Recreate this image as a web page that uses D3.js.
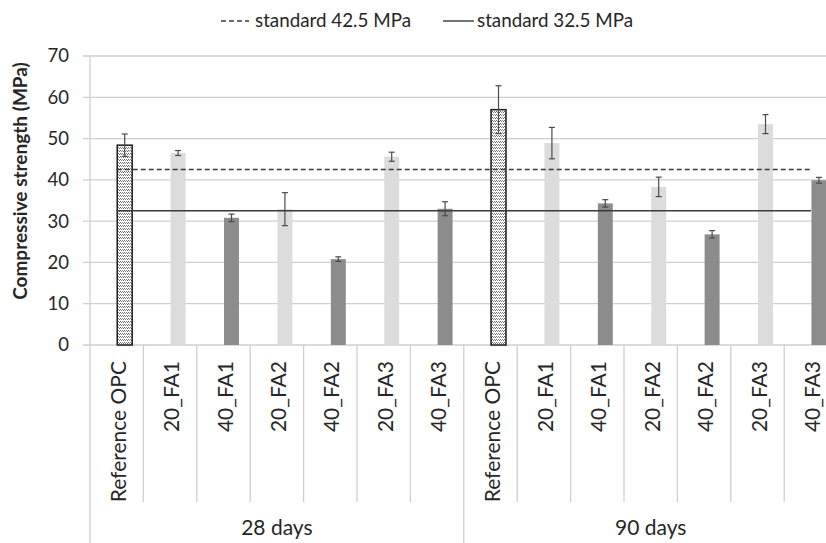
<!DOCTYPE html>
<html><head><meta charset="utf-8">
<script src="https://cdn.jsdelivr.net/npm/d3@7"></script>
<style>body{margin:0;background:#fff}svg{display:block}text{font-family:Lato,"Open Sans",sans-serif;fill:#262626}</style>
</head><body><svg id="c" width="826" height="543"></svg>
<script>
const groups = ["28 days", "90 days"];
const categories = ["Reference OPC", "20_FA1", "40_FA1", "20_FA2", "40_FA2", "20_FA3", "40_FA3"];
const mixType = ["ref", "20", "40", "20", "40", "20", "40"];
const values28 = [48.4, 46.5, 30.8, 32.9, 20.8, 45.6, 33.0];
const errors28 = [2.7, 0.6, 0.9, 4.0, 0.55, 1.1, 1.7];
const values90 = [57.0, 48.9, 34.3, 38.3, 26.8, 53.5, 39.9];
const errors90 = [5.8, 3.8, 0.9, 2.35, 0.9, 2.3, 0.7];
const standards = [{label: "standard 42.5 MPa", value: 42.5, dash: "5,3"}, {label: "standard 32.5 MPa", value: 32.5, dash: null}];
const yTicks = [0, 10, 20, 30, 40, 50, 60, 70];

const rows = [];
groups.forEach((g, gi) => categories.forEach((c, ci) => rows.push({
  key: gi + "-" + ci, group: g, cat: c, type: mixType[ci],
  value: gi === 0 ? values28[ci] : values90[ci],
  err: gi === 0 ? errors28[ci] : errors90[ci]
})));

const svg = d3.select("#c");
const defs = svg.append("defs");
const pat = defs.append("pattern").attr("id", "hatch").attr("patternUnits", "userSpaceOnUse")
  .attr("width", 4).attr("height", 3);
pat.append("rect").attr("width", 4).attr("height", 3).attr("fill", "#fff");
pat.append("rect").attr("x", 0).attr("y", 0).attr("width", 1).attr("height", 1).attr("fill", "#666");
pat.append("rect").attr("x", 1).attr("y", 1).attr("width", 1).attr("height", 1).attr("fill", "#888");
pat.append("rect").attr("x", 2).attr("y", 0).attr("width", 1).attr("height", 1).attr("fill", "#888");
pat.append("rect").attr("x", 3).attr("y", 1).attr("width", 1).attr("height", 1).attr("fill", "#666");

const pLeft = 90, pTop = 56, pBottom = 345, band = 53.4;
const x = d3.scaleBand().domain(rows.map(r => r.key)).range([pLeft, pLeft + band * rows.length]).padding(0);
const y = d3.scaleLinear().domain([0, 70]).range([pBottom, pTop]);
const grid = "#cfcfcf";

svg.append("g").selectAll("line").data(yTicks).join("line")
  .attr("x1", pLeft - 7).attr("x2", 826).attr("y1", d => y(d)).attr("y2", d => y(d))
  .attr("stroke", grid).attr("stroke-width", 1.3);
svg.append("g").selectAll("text").data(yTicks).join("text")
  .attr("x", 69).attr("y", d => y(d)).attr("dy", "0.35em").attr("text-anchor", "end")
  .attr("font-size", 18.5).text(d => d);
svg.append("line").attr("x1", pLeft).attr("x2", pLeft).attr("y1", pTop).attr("y2", 543)
  .attr("stroke", grid).attr("stroke-width", 1.3);
svg.append("text").attr("transform", "translate(27,181) rotate(-90)")
  .attr("text-anchor", "middle").attr("font-size", 19).attr("font-weight", "bold")
  .text("Compressive strength (MPa)");

svg.append("g").selectAll("line").data(rows.slice(1)).join("line")
  .attr("x1", d => x(d.key)).attr("x2", d => x(d.key))
  .attr("y1", pBottom).attr("y2", d => categories.indexOf(d.cat) === 0 ? 543 : 502)
  .attr("stroke", grid).attr("stroke-width", 1.3);

svg.append("g").selectAll("text").data(rows).join("text")
  .attr("transform", d => `translate(${x(d.key) + x.bandwidth() / 2 + 9},${pBottom + 16}) rotate(-90)`)
  .attr("text-anchor", "end").attr("font-size", 21).text(d => d.cat);
svg.append("g").selectAll("text").data(groups).join("text")
  .attr("x", (g, gi) => x(gi + "-0") + band * categories.length / 2).attr("y", 535)
  .attr("text-anchor", "middle").attr("font-size", 21).text(g => g);

const bw = band * 0.28, off = band * 0.15;
const fillFor = t => t === "ref" ? "url(#hatch)" : t === "20" ? "#dcdcdc" : "#8c8c8c";
svg.append("g").selectAll("rect").data(rows).join("rect")
  .attr("x", d => x(d.key) + x.bandwidth() / 2 + off - bw / 2).attr("width", bw)
  .attr("y", d => y(d.value)).attr("height", d => y(0) - y(d.value))
  .attr("fill", d => fillFor(d.type))
  .attr("stroke", d => d.type === "ref" ? "#1a1a1a" : "none").attr("stroke-width", 1.5);

const first = rows[0].key, last = rows[rows.length - 1].key;
svg.append("g").selectAll("line").data(standards).join("line")
  .attr("x1", x(first) + x.bandwidth() / 2).attr("x2", x(last) + x.bandwidth() / 2)
  .attr("y1", d => y(d.value)).attr("y2", d => y(d.value))
  .attr("stroke", "#3a3a3a").attr("stroke-width", 1.4).attr("stroke-dasharray", d => d.dash);

const eb = svg.append("g").attr("stroke", "#4a4a4a").attr("stroke-width", 1.2);
rows.forEach(d => {
  const cx = x(d.key) + x.bandwidth() / 2 + off;
  eb.append("line").attr("x1", cx).attr("x2", cx).attr("y1", y(d.value + d.err)).attr("y2", y(d.value - d.err));
  [d.value + d.err, d.value - d.err].forEach(v =>
    eb.append("line").attr("x1", cx - 3).attr("x2", cx + 3).attr("y1", y(v)).attr("y2", y(v)));
});

const lg = svg.append("g");
lg.append("line").attr("x1", 221).attr("x2", 249).attr("y1", 21).attr("y2", 21)
  .attr("stroke", "#3a3a3a").attr("stroke-width", 1.4).attr("stroke-dasharray", "5,3");
lg.append("text").attr("x", 255).attr("y", 27).attr("font-size", 18.8).text(standards[0].label);
lg.append("line").attr("x1", 443).attr("x2", 474).attr("y1", 21).attr("y2", 21)
  .attr("stroke", "#3a3a3a").attr("stroke-width", 1.4);
lg.append("text").attr("x", 477).attr("y", 27).attr("font-size", 18.8).text(standards[1].label);
</script></body></html>
